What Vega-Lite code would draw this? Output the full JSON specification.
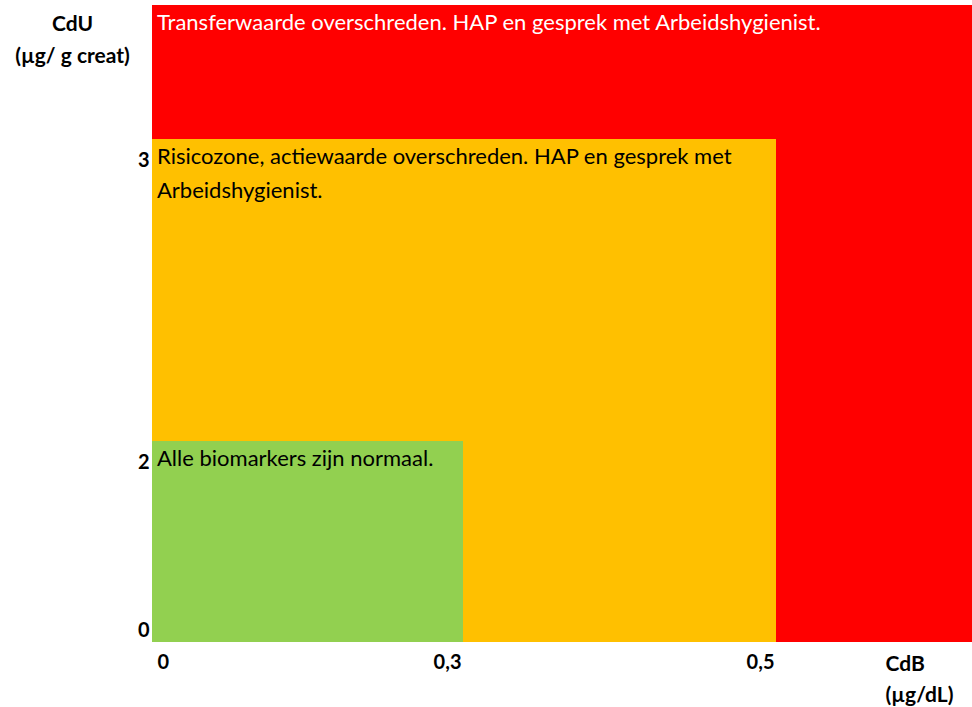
{
  "$schema": "https://vega.github.io/schema/vega-lite/v6.json",
  "width": 820,
  "height": 637,
  "autosize": {"type": "none"},
  "padding": {"left": 152, "top": 5, "right": 0, "bottom": 65},
  "background": "white",
  "config": {"view": {"stroke": null}, "font": "Lato"},
  "data": {
    "values": [
      {"zone": "rood", "x0": 0, "x1": 0.8, "y0": 0, "y1": 4, "label": "Transferwaarde overschreden. HAP en gesprek met Arbeidshygienist."},
      {"zone": "oranje", "x0": 0, "x1": 0.5, "y0": 0, "y1": 3, "label": "Risicozone, actiewaarde overschreden. HAP en gesprek met\nArbeidshygienist."},
      {"zone": "groen", "x0": 0, "x1": 0.3, "y0": 0, "y1": 2, "label": "Alle biomarkers zijn normaal."}
    ]
  },
  "encoding": {
    "x": {
      "field": "x0", "type": "quantitative",
      "scale": {"domain": [0, 0.3, 0.5, 0.8], "range": [0, 311, 624, 820], "nice": false, "zero": false},
      "axis": {
        "values": [0, 0.3, 0.5],
        "labelExpr": "replace(format(datum.value, '~g'), '.', ',')",
        "domain": false, "ticks": false, "grid": false,
        "labelFontSize": 20, "labelFontWeight": "bold", "labelColor": "black", "labelFont": "Lato",
        "labelPadding": 10,
        "labelAlign": {"condition": {"test": "datum.value == 0", "value": "left"}, "value": "right"},
        "labelOffset": {"condition": {"test": "datum.value == 0", "value": 5}, "value": -2},
        "labelFlush": false, "labelOverlap": false,
        "title": ["CdB", "(µg/dL)"],
        "titleFont": "Lato", "titleFontSize": 21, "titleFontWeight": "bold", "titleColor": "black",
        "titleAlign": "left", "titleAnchor": "start", "titleBaseline": "top",
        "titleX": 733, "titleY": 11, "titleLineHeight": 31
      }
    },
    "y": {
      "field": "y0", "type": "quantitative",
      "scale": {"domain": [0, 2, 3, 4], "range": [637, 436, 134, 0], "nice": false, "zero": false},
      "axis": {
        "values": [0, 2, 3],
        "domain": false, "ticks": false, "grid": false,
        "labelFontSize": 20, "labelFontWeight": "bold", "labelColor": "black", "labelFont": "Lato",
        "labelPadding": 3, "labelAlign": "right",
        "labelBaseline": {"condition": {"test": "datum.value == 0", "value": "alphabetic"}, "value": "top"},
        "labelOffset": {"condition": {"test": "datum.value == 0", "value": -6}, "value": 11},
        "labelFlush": false, "labelOverlap": false,
        "title": ["CdU", "(µg/ g creat)"],
        "titleFont": "Lato", "titleFontSize": 21, "titleFontWeight": "bold", "titleColor": "black",
        "titleAngle": 0, "titleAlign": "center", "titleBaseline": "top",
        "titleX": -80, "titleY": 8, "titleLineHeight": 32
      }
    }
  },
  "layer": [
    {
      "mark": {"type": "rect"},
      "encoding": {
        "x2": {"field": "x1"},
        "y2": {"field": "y1"},
        "color": {
          "field": "zone", "type": "nominal",
          "scale": {"domain": ["rood", "oranje", "groen"], "range": ["#FF0000", "#FFC000", "#92D050"]},
          "legend": null
        }
      }
    },
    {
      "mark": {"type": "text", "align": "left", "baseline": "top", "dx": 5, "dy": 8, "fontSize": 22, "font": "Lato", "lineBreak": "\n", "lineHeight": 34},
      "encoding": {
        "y": {"field": "y1", "type": "quantitative"},
        "text": {"field": "label"},
        "color": {"condition": {"test": "datum.zone == 'rood'", "value": "white"}, "value": "black"}
      }
    }
  ]
}
